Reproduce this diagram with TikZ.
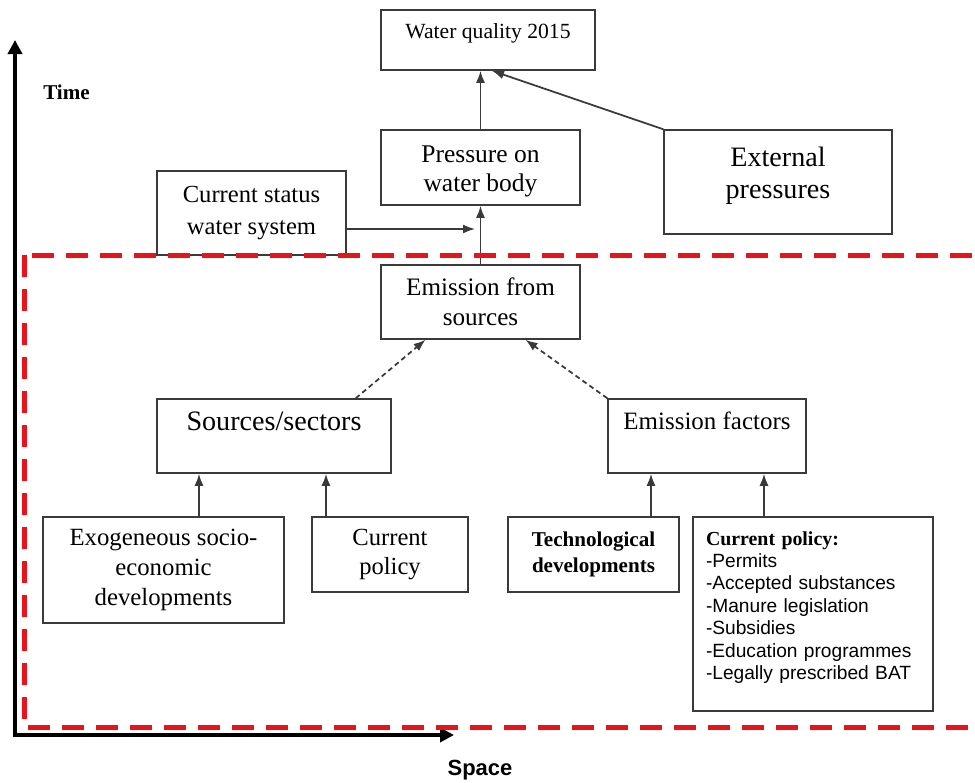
\documentclass[tikz,border=0pt]{standalone}
\usepackage{fontspec}
\setmainfont{Liberation Serif}
\setsansfont{Liberation Sans}
\usepackage{tikz}
\usetikzlibrary{arrows.meta}

\definecolor{boxgray}{HTML}{3A3A3A}
\definecolor{dashred}{HTML}{E8141C}
\newcommand{\fsz}[2]{\fontsize{#1}{#2}\selectfont}

\tikzset{
	box/.style={draw=boxgray, line width=0.3mm, align=center, inner sep=0pt},
	arr/.style={draw=boxgray, line width=0.35mm, -{Latex[length=2.4mm,width=1.8mm]}},
	darr/.style={arr, dash pattern=on 1mm off 0.7mm},
	axis/.style={line width=0.8mm, {Triangle[length=2.8mm,width=2.8mm]}-{Triangle[length=2.8mm,width=2.8mm]}},
	region/.style={draw=dashred, line width=1mm, dash pattern=on 4.4mm off 2.4mm},
}

\begin{document}
\begin{tikzpicture}[x=0.2mm,y=-0.2mm]
	\useasboundingbox (0,0) rectangle (975,783);
	\clip (0,0) rectangle (975,783);
	\fill[white] (0,0) rectangle (975,783);

	% time / space axes
	\coordinate (o) at (15,735);
	\coordinate (ty) at (15,40);
	\coordinate (tx) at (454,735);
	\draw[axis] (ty) -- (o) -- (tx);
	\node[font=\bfseries\fsz{12}{14}] (time) at (66.5,92) {Time};
	\node[font=\sffamily\bfseries\fsz{12.5}{14}] (space) at (480,770) {Space};

	\node[box, minimum width=42.8mm, minimum height=12mm, font=\fsz{12.3}{14}, text height=3mm, text depth=3.8mm] (wq) at (488,40) {Water quality 2015};
	\node[box, minimum width=39.8mm, minimum height=15mm, font=\fsz{14.5}{16}, text height=9.6mm, text depth=0.2mm] (press) at (480.5,167.5) {Pressure on\\water body};
	\node[box, minimum width=45.6mm, minimum height=20.8mm, font=\fsz{16}{18}, text height=8.4mm, text depth=2mm] (ext) at (778,182) {External\\pressures};
	\node[box, minimum width=37.8mm, minimum height=16.8mm, font=\fsz{14}{18}] (status) at (251.5,213) {Current status\\water system};
	\node[box, minimum width=39.8mm, minimum height=14.8mm, font=\fsz{14.3}{17}] (emis) at (480.5,302) {Emission from\\sources};
	\node[box, minimum width=46.8mm, minimum height=14.8mm, font=\fsz{16}{18}, text height=3.6mm, text depth=6mm] (src) at (274,436) {Sources/sectors};
	\node[box, minimum width=39.6mm, minimum height=14.8mm, font=\fsz{14.2}{17}, text height=3.6mm, text depth=6.4mm] (fac) at (707,436) {Emission factors};
	\node[box, minimum width=48.2mm, minimum height=21.2mm, font=\fsz{14.1}{17}] (exo) at (163.5,570) {Exogeneous socio-\\economic\\developments};
	\node[box, minimum width=31.2mm, minimum height=15mm, font=\fsz{14}{17}] (pol) at (390,554.5) {Current\\policy};
	\node[box, minimum width=34.2mm, minimum height=15mm, font=\bfseries\fsz{12}{15}] (tech) at (593.5,554.5) {Technological\\developments};
	\node[box, text width=42.8mm, inner xsep=2.6mm, minimum height=38.8mm, align=left, font=\sffamily\fsz{10.9}{12.75}, text height=3.6mm, text depth=31.2mm] (list) at (813,614)
		{{\rmfamily\bfseries\fsz{11.3}{12.75}Current policy:}\\-Permits\\-Accepted substances\\-Manure legislation\\-Subsidies\\-Education programmes\\-Legally prescribed BAT};

	\draw[arr] (press.north) -- (press.north |- wq.south);
	\draw[arr] (ext.north west) -- ([xshift=0.8mm]wq.south);
	\draw[arr] (emis.north) -- (press.south);
	\coordinate (join) at (475,229);
	\draw[arr] (status.east |- join) -- (join);
	\draw[darr] ([xshift=-7.2mm]src.north east) -- ([xshift=-11mm]emis.south);
	\draw[darr] (fac.north west) -- ([xshift=9mm]emis.south);
	\foreach \x/\a/\b in {199/exo/src, 326/pol/src, 651/tech/fac, 764/list/fac} {
		\coordinate (p) at (\x,0);
		\draw[arr] (\a.north -| p) -- (\b.south -| p);
	}

	% model region
	\draw[region] (24,255) rectangle (995,727);
\end{tikzpicture}
\end{document}
